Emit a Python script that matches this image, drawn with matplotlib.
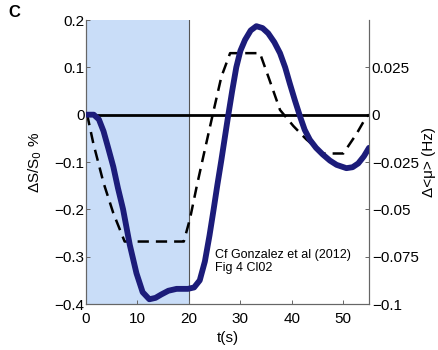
import matplotlib
matplotlib.use('Agg')
import matplotlib.pyplot as plt

plt.rcParams['font.family'] = ['Liberation Sans', 'DejaVu Sans']

# ── data ──
t_signal = [0, 1.5, 2.5, 3.4, 4.3, 5.3, 6.2, 7.2, 8.5, 9.8, 11.0, 12.3, 13.5,
            14.6, 16.0, 17.6, 19.8, 21.0, 22.1, 23.1, 24.0, 24.8, 25.5, 26.3,
            27.6, 28.4, 29.2, 30.0, 30.9, 32.0, 33.1, 34.3, 35.4, 36.6, 37.7,
            38.7, 39.6, 40.6, 41.6, 42.5, 43.5, 44.7, 46.0, 47.4, 48.7, 50.6,
            51.8, 52.9, 54.0, 55.0]
dS_signal = [0, 0.0, -0.01, -0.035, -0.07, -0.11, -0.155, -0.20, -0.275,
             -0.335, -0.375, -0.39, -0.387, -0.38, -0.372, -0.368, -0.368,
             -0.365, -0.35, -0.31, -0.255, -0.2, -0.15, -0.096, -0.004, 0.05,
             0.10, 0.135, 0.158, 0.178, 0.187, 0.183, 0.172, 0.153, 0.13, 0.10,
             0.066, 0.03, -0.004, -0.032, -0.053, -0.07, -0.084, -0.097,
             -0.106, -0.113, -0.111, -0.103, -0.088, -0.07]

t_rate = [0, 0.3, 1.4, 3.4, 5.3, 7.5, 19.0, 20.2, 21.5, 22.8, 24.7, 26.3,
          28.0, 33.8, 35.7, 37.7, 40.3, 42.8, 46.0, 50.0, 52.6, 54.5, 55]
dmu_rate = [0, -0.001, -0.015, -0.036, -0.052, -0.067, -0.067, -0.055,
            -0.038, -0.022, 0.001, 0.02, 0.0325, 0.0325, 0.018, 0.0025,
            -0.006, -0.013, -0.0205, -0.0205, -0.01, -0.001, 0]

stim_on, stim_off = 0, 20
left_ticks = [0.2, 0.1, 0, -0.1, -0.2, -0.3, -0.4]
right_ticks = [0.025, 0, -0.025, -0.05, -0.075, -0.1]
x_ticks = [0, 10, 20, 30, 40, 50]

NAVY = '#1c1c7a'
SHADE = '#c9ddf8'
SPINE = '#666666'

fig = plt.figure(figsize=(4.39, 3.5), dpi=100)
ax = fig.add_axes([0.196, 0.1314, 0.6446, 0.8114])
ax2 = ax.twinx()

# left axis on top (blue curve), right axis below (shading + dashed)
ax2.set_zorder(1)
ax.set_zorder(2)
ax.patch.set_visible(False)

# stimulus window (drawn on the lower axes so the dashed line stays visible)
ax2.axvspan(stim_on, stim_off, color=SHADE, lw=0, zorder=0)
ax2.axvline(stim_off, color='#555555', lw=0.8, zorder=1)
ax2.plot(t_rate, dmu_rate, color='black', lw=1.8, ls=(0, (4.5, 2.8)), zorder=3)

ax.axhline(0, color='black', lw=2, zorder=2)
ax.plot(t_signal, dS_signal, color=NAVY, lw=4.2, solid_capstyle='round',
        solid_joinstyle='round', zorder=4)

ax.set_xlim(0, 55)
ax.set_ylim(-0.4, 0.2)
ax2.set_ylim(-0.1, 0.05)
ax.set_xticks(x_ticks)
ax.set_yticks(left_ticks)
ax.set_yticklabels(['0.2', '0.1', '0', '\u22120.1', '\u22120.2', '\u22120.3', '\u22120.4'])
ax2.set_yticks(right_ticks)
ax2.set_yticklabels(['0.025', '0', '\u22120.025', '\u22120.05', '\u22120.075', '\u22120.1'])

for a in (ax, ax2):
    a.spines['top'].set_visible(False)
    for s in ('left', 'right', 'bottom'):
        a.spines[s].set_color(SPINE)
        a.spines[s].set_linewidth(0.8)
    a.tick_params(direction='in', length=3, width=0.7, color=SPINE,
                  labelsize=11, pad=2)
ax.tick_params(axis='x', pad=5.5)
ax.tick_params(axis='y', pad=1)

ax.set_xlabel('t(s)', fontsize=11, labelpad=4)
ax.set_ylabel('\u0394S/S$_0$ %', fontsize=11, labelpad=8)
ax2.set_ylabel('\u0394<\u03bc> (Hz)', fontsize=11, labelpad=2)

ax.text(25, -0.283, 'Cf Gonzalez et al (2012)\nFig 4 Cl02', fontsize=9,
        ha='left', va='top', linespacing=1.15, zorder=5)

fig.text(0.018, 0.965, 'C', fontsize=12, fontweight='bold', ha='left', va='center')

fig.savefig('out.png', dpi=100)
